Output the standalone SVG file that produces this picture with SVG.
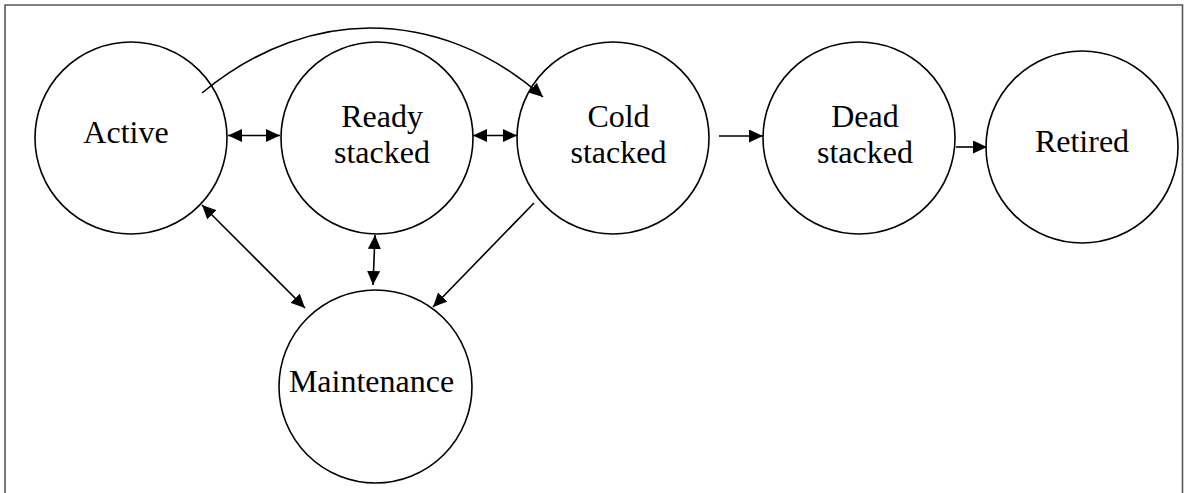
<svg xmlns="http://www.w3.org/2000/svg" width="1184" height="493" viewBox="0 0 1184 493">
<style>
.node circle{fill:#fff;stroke:#000;stroke-width:1.6}
.node text{font-family:"Liberation Serif","Times New Roman",serif;font-size:32px;fill:#000;text-anchor:middle}
.conn{fill:none;stroke:#000;stroke-width:1.6}
</style>
<defs>
<marker id="ah" markerUnits="userSpaceOnUse" markerWidth="15" markerHeight="13" refX="14" refY="6.5" orient="auto-start-reverse" viewBox="0 0 15 13">
<path d="M0,0 L14,6.5 L0,13 z" fill="#000"/>
</marker>
</defs>
<rect width="1184" height="493" fill="#fff"/>
<path d="M5,493 V5 H1182.5 V493" fill="none" stroke="#595959" stroke-width="1.6"/>
<g id="active" class="node"><circle cx="131" cy="138" r="96"/><text x="126" y="143">Active</text></g>
<g id="ready" class="node"><circle cx="377" cy="138" r="96"/><text x="382" y="127">Ready</text><text x="382" y="163">stacked</text></g>
<g id="cold" class="node"><circle cx="613" cy="138" r="96"/><text x="618.5" y="127">Cold</text><text x="618.5" y="163">stacked</text></g>
<g id="dead" class="node"><circle cx="859" cy="138" r="96"/><text x="865" y="127">Dead</text><text x="865" y="163">stacked</text></g>
<g id="retired" class="node"><circle cx="1082" cy="147" r="96"/><text x="1082" y="152">Retired</text></g>
<g id="maintenance" class="node"><circle cx="375.5" cy="386.5" r="96.5"/><text x="371.5" y="392">Maintenance</text></g>
<g id="connectors">
<path class="conn" d="M202,93 C260,45 320,28 370,28 C430,28 490,50 543,97" marker-end="url(#ah)"/>
<line class="conn" x1="228" y1="135.5" x2="280" y2="135.5" marker-start="url(#ah)" marker-end="url(#ah)"/>
<line class="conn" x1="473" y1="135.5" x2="517" y2="135.5" marker-start="url(#ah)" marker-end="url(#ah)"/>
<line class="conn" x1="719" y1="136" x2="763" y2="136" marker-end="url(#ah)"/>
<line class="conn" x1="956" y1="147" x2="987" y2="147" marker-end="url(#ah)"/>
<line class="conn" x1="202" y1="205" x2="305" y2="308" marker-start="url(#ah)" marker-end="url(#ah)"/>
<line class="conn" x1="375" y1="235" x2="373" y2="285" marker-start="url(#ah)" marker-end="url(#ah)"/>
<line class="conn" x1="534" y1="203" x2="433" y2="307" marker-end="url(#ah)"/>
</g>
</svg>
